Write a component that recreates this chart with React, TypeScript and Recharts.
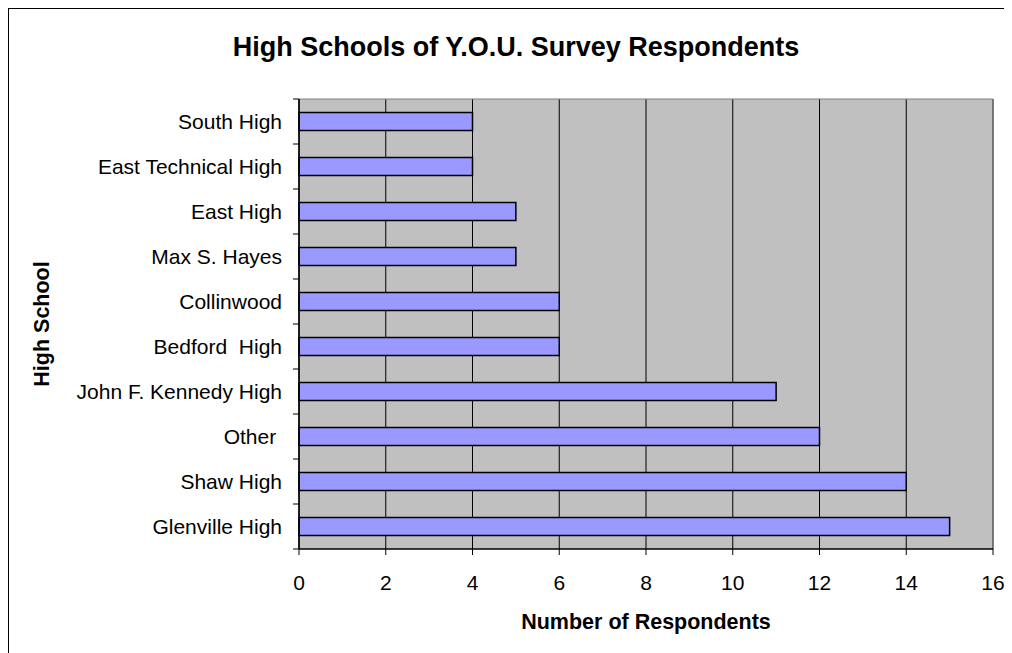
import React from "react";
import { BarChart, Bar, XAxis, YAxis, CartesianGrid, ReferenceLine } from "recharts";

const schools = [
  "South High",
  "East Technical High",
  "East High",
  "Max S. Hayes",
  "Collinwood",
  "Bedford  High",
  "John F. Kennedy High",
  "Other ",
  "Shaw High",
  "Glenville High",
];
const respondents = [4, 4, 5, 5, 6, 6, 11, 12, 14, 15];
const xTicks = [0, 2, 4, 6, 8, 10, 12, 14, 16];

const data = schools.map((s, i) => ({ school: s, value: respondents[i] }));

const FONT = "'Liberation Sans', Arial, sans-serif";
const CHART_W = 1004;
const CHART_H = 645;
const MARGIN = { top: 91, right: 19, bottom: 24, left: 0 };
const Y_WIDTH = 291;
const X_HEIGHT = 80;
const PLOT_H = CHART_H - MARGIN.top - MARGIN.bottom - X_HEIGHT;
const BAND = PLOT_H / schools.length;
const TICK_MARGIN = 17;

const YTick = (props: any) => {
  const { x, y, payload, index } = props;
  const axisX = x + TICK_MARGIN;
  return (
    <g>
      <line x1={axisX - 6} x2={axisX} y1={y - BAND / 2} y2={y - BAND / 2} stroke="#000" strokeWidth={1} />
      {index === schools.length - 1 && (
        <line x1={axisX - 6} x2={axisX} y1={y + BAND / 2} y2={y + BAND / 2} stroke="#000" strokeWidth={1} />
      )}
      <text
        x={x}
        y={y}
        dy={7}
        textAnchor="end"
        fill="#000"
        fontSize={21}
        fontFamily={FONT}
        style={{ whiteSpace: "pre" }}
      >
        {payload.value}
      </text>
    </g>
  );
};

const YLabel = (props: any) => {
  const vb = props.viewBox || {};
  const cy = (vb.y || 0) + (vb.height || 0) / 2;
  return (
    <text
      x={34}
      y={cy}
      transform={`rotate(-90, 34, ${cy})`}
      textAnchor="middle"
      dominantBaseline="central"
      fontSize={21.5}
      fontWeight="bold"
      fontFamily={FONT}
      fill="#000"
    >
      High School
    </text>
  );
};

export default function App() {
  return (
    <div style={{ position: "relative", width: CHART_W, height: CHART_H, fontFamily: FONT }}>
      <div
        style={{
          position: "absolute",
          left: -1,
          top: -1,
          width: CHART_W + 10,
          height: CHART_H + 10,
          borderTop: "2.5px solid #000",
          borderLeft: "2.5px solid #000",
          boxSizing: "border-box",
        }}
      />
      <div
        style={{
          position: "absolute",
          left: 8,
          top: 24,
          width: 1000,
          textAlign: "center",
          fontSize: 27,
          lineHeight: "30px",
          fontWeight: "bold",
          fontFamily: FONT,
          color: "#000",
        }}
      >
        High Schools of Y.O.U. Survey Respondents
      </div>
      <div style={{ position: "absolute", left: 0, top: 0 }}>
        <BarChart
          width={CHART_W}
          height={CHART_H}
          data={data}
          layout="vertical"
          margin={MARGIN}
          barCategoryGap="30%"
        >
          <CartesianGrid horizontal={false} stroke="#000" strokeOpacity={1} fill="#C0C0C0" fillOpacity={1} />
          <CartesianGrid
            vertical={false}
            horizontalCoordinatesGenerator={({ offset }: any) => [offset.top]}
            stroke="#808080"
          />
          <XAxis
            type="number"
            domain={[0, 16]}
            ticks={xTicks}
            interval={0}
            height={X_HEIGHT}
            tickSize={6}
            tickMargin={20}
            axisLine={{ stroke: "#000", strokeWidth: 1.5 }}
            tickLine={{ stroke: "#000" }}
            tick={{ fill: "#000", fontSize: 21, fontFamily: FONT }}
            label={{
              value: "Number of Respondents",
              position: "insideBottom",
              offset: 0,
              fill: "#000",
              fontSize: 21.5,
              fontWeight: "bold",
              fontFamily: FONT,
            }}
          />
          <YAxis
            type="category"
            dataKey="school"
            width={Y_WIDTH}
            interval={0}
            tickSize={0}
            tickMargin={TICK_MARGIN}
            tickLine={false}
            axisLine={{ stroke: "#000", strokeWidth: 1.5 }}
            tick={<YTick />}
            label={<YLabel />}
          />
          <ReferenceLine x={16} stroke="#808080" strokeWidth={1} />
          <Bar dataKey="value" fill="#9999FF" stroke="#000" strokeWidth={1.5} isAnimationActive={false} />
        </BarChart>
      </div>
    </div>
  );
}
